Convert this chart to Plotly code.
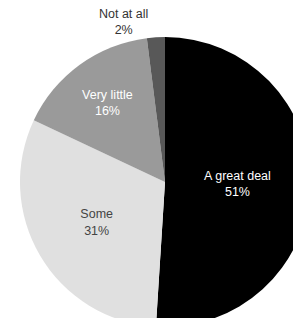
import plotly.graph_objects as go

labels = ["A great deal", "Some", "Very little", "Not at all"]
values = [51, 31, 16, 2]
colors = ["#000000", "#e0e0e0", "#9a9a9a", "#585858"]
text_colors = ["#ffffff", "#444444", "#ffffff", "#333333"]
positions = ["inside", "inside", "inside", "outside"]

W, H = 340, 350
cx, cy, half = 165, 182, 145
font = "Liberation Sans, Arial, sans-serif"
fig = go.Figure(go.Pie(
    labels=labels,
    values=values,
    sort=False,
    direction="clockwise",
    rotation=0,
    marker=dict(colors=colors, line=dict(width=0)),
    texttemplate="%{label}<br>%{value}%",
    textposition=positions,
    insidetextorientation="horizontal",
    textfont=dict(family=font, size=12.5, color=text_colors),
    insidetextfont=dict(family=font, size=12.5, color=text_colors),
    outsidetextfont=dict(family=font, size=12.5, color="#333333"),
    domain=dict(x=[(cx - half) / W, (cx + half) / W], y=[(H - cy - half) / H, (H - cy + half) / H]),
    showlegend=False,
    hoverinfo="skip",
))
fig.update_layout(
    width=W, height=H,
    margin=dict(l=0, r=0, t=0, b=0),
    paper_bgcolor="white",
    plot_bgcolor="white",
)
fig.write_html("out.html", config={"displayModeBar": False},
               post_script="document.body.style.overflow='hidden';document.documentElement.style.overflow='hidden';document.body.style.margin='0';")
